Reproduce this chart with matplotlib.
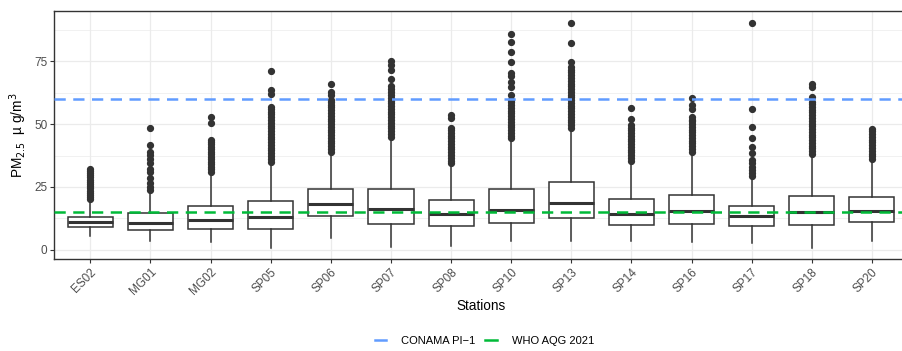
# PM2.5 by station - boxplot with CONAMA / WHO reference lines
import matplotlib
matplotlib.use("Agg")
import matplotlib.pyplot as plt
from matplotlib.lines import Line2D
from matplotlib.transforms import ScaledTranslation

plt.rcParams['font.family'] = ['Liberation Sans', 'DejaVu Sans']

stations = ['ES02', 'MG01', 'MG02', 'SP05', 'SP06', 'SP07', 'SP08',
            'SP10', 'SP13', 'SP14', 'SP16', 'SP17', 'SP18', 'SP20']

# box statistics
q1 = [9.0, 7.9, 8.3, 8.3, 13.5, 10.2, 9.7, 10.6, 12.6, 9.9, 10.4, 9.7, 10.0, 11.0]
med = [11.0, 10.6, 11.9, 13.1, 18.1, 16.3, 14.4, 15.9, 18.5, 14.4, 15.5, 13.6, 14.9, 15.3]
q3 = [13.2, 14.5, 17.3, 19.3, 24.1, 24.3, 19.8, 24.1, 27.1, 20.4, 21.9, 17.6, 21.6, 21.2]
whis_lo = [5.6, 3.7, 3.3, 0.9, 4.6, 1.3, 1.6, 3.7, 3.7, 3.7, 3.3, 2.9, 0.7, 3.4]
whis_hi = [19.6, 23.4, 30.6, 34.6, 38.5, 44.5, 33.9, 43.8, 48.0, 34.9, 38.5, 29.0, 37.6, 35.6]

outliers = [
    [20.1, 21.0, 22.0, 22.8, 23.6, 24.5, 25.3, 26.2, 27.0, 27.9, 28.8, 29.6, 30.5, 31.3, 32.1],
    [23.8, 24.9, 26.7, 28.6, 30.8, 32.1, 34.4, 36.0, 37.7, 39.0, 41.7, 48.5],
    [31.1, 32.0, 33.0, 34.0, 35.0, 36.0, 37.0, 38.0, 39.0, 40.0, 41.0, 42.0, 43.0, 43.7,
     50.3, 52.9],
    [35.1, 36.2, 37.3, 38.4, 39.5, 40.6, 41.7, 42.8, 43.9, 45.0, 46.1, 47.2, 48.3, 49.4,
     50.5, 51.6, 52.7, 53.8, 54.9, 56.0, 56.6, 61.9, 63.5, 71.2],
    [39.0, 40.1, 41.2, 42.3, 43.4, 44.5, 45.6, 46.7, 47.8, 48.9, 50.0, 51.1, 52.2, 53.3,
     54.4, 55.5, 56.6, 57.7, 58.8, 59.5, 61.5, 62.8, 65.9],
    [45.0, 46.1, 47.2, 48.3, 49.4, 50.5, 51.6, 52.7, 53.8, 54.9, 56.0, 57.1, 58.2, 59.3,
     60.4, 61.5, 62.6, 63.8, 65.1, 67.7, 71.4, 73.4, 75.0],
    [34.4, 35.5, 36.6, 37.7, 38.8, 39.9, 41.0, 42.1, 43.2, 44.3, 45.4, 46.5, 47.6, 48.3,
     52.6, 53.6],
    [44.3, 45.4, 46.5, 47.6, 48.7, 49.8, 50.9, 52.0, 53.1, 54.2, 55.3, 56.4, 57.5, 58.6,
     59.5, 61.5, 64.6, 66.8, 69.0, 70.4, 74.7, 78.7, 82.7, 85.6],
    [48.5, 49.6, 50.7, 51.8, 52.9, 54.0, 55.1, 56.2, 57.3, 58.4, 59.5, 60.6, 61.7, 62.8,
     63.9, 65.0, 66.1, 67.2, 68.3, 69.4, 70.5, 71.6, 72.8, 74.5, 82.0, 90.3],
    [35.4, 36.5, 37.6, 38.7, 39.8, 40.9, 42.0, 43.1, 44.2, 45.3, 46.4, 47.5, 48.6, 49.6,
     52.0, 56.2],
    [39.0, 40.1, 41.2, 42.3, 43.4, 44.5, 45.6, 46.7, 47.8, 48.9, 50.0, 51.1, 51.6, 52.9,
     55.8, 57.5, 60.2],
    [29.5, 30.4, 31.7, 33.1, 34.7, 35.7, 38.4, 40.7, 44.6, 48.9, 55.8, 90.0],
    [38.1, 39.2, 40.3, 41.4, 42.5, 43.6, 44.7, 45.8, 46.9, 48.0, 49.1, 50.2, 51.3, 52.4,
     53.5, 54.6, 55.7, 56.8, 57.9, 58.9, 60.8, 64.6, 66.1],
    [36.1, 37.2, 38.3, 39.4, 40.5, 41.6, 42.7, 43.8, 44.9, 46.0, 47.1, 47.9],
]

limit_names = ['CONAMA PI\u22121', 'WHO AQG 2021']
limit_values = [60, 15]
limit_colors = ['#619CFF', '#00BA38']

dark = '#333333'

fig = plt.figure(figsize=(9.03, 3.51), dpi=100)
# panel runs slightly past the right edge, like the reference crop
ax = fig.add_axes([54.3 / 903, 1 - 259 / 351, (908 - 54.3) / 903, (259 - 11) / 351])

stats = []
for i, name in enumerate(stations):
    stats.append(dict(label=name, q1=q1[i], med=med[i], q3=q3[i],
                      whislo=whis_lo[i], whishi=whis_hi[i], fliers=outliers[i]))

positions = list(range(1, len(stations) + 1))
ax.bxp(stats, positions=positions, widths=0.75, patch_artist=True, showcaps=False,
       boxprops=dict(facecolor='white', edgecolor=dark, linewidth=1.1),
       medianprops=dict(color=dark, linewidth=2.2),
       whiskerprops=dict(color=dark, linewidth=1.1),
       flierprops=dict(marker='o', markerfacecolor=dark, markeredgecolor=dark,
                       markersize=4.2, linestyle='none'),
       zorder=2)

handles = []
for name, val, col in zip(limit_names, limit_values, limit_colors):
    ax.axhline(val, color=col, linewidth=1.8, linestyle=(0, (4.5, 3)), zorder=3)
    handles.append(Line2D([], [], color=col, linewidth=1.8, label=name))

ax.set_xlim(0.4, 14.6)
ax.set_ylim(-3.6, 94.9)
ax.set_yticks([0, 25, 50, 75])
ax.set_yticks([12.5, 37.5, 62.5, 87.5], minor=True)
ax.set_xticks(positions)
ax.set_xticklabels(stations, rotation=45, ha='right', va='top', rotation_mode='anchor')
# nudge the rotated labels right/down like ggplot's hjust=1 placement
shift = ScaledTranslation(5 / 100, -3 / 100, fig.dpi_scale_trans)
for lab in ax.get_xticklabels():
    lab.set_transform(lab.get_transform() + shift)

ax.grid(True, which='major', color='#EBEBEB', linewidth=0.9, zorder=0)
ax.grid(True, which='minor', axis='y', color='#EBEBEB', linewidth=0.5, zorder=0)
ax.set_axisbelow(True)

for sp in ax.spines.values():
    sp.set_color(dark)
    sp.set_linewidth(1.0)
ax.tick_params(which='major', color=dark, length=3, width=0.8,
               labelcolor='#4D4D4D', labelsize=8.5, pad=2)
ax.tick_params(which='minor', length=0)

ax.set_xlabel('Stations', fontsize=9.8, labelpad=1)
ax.set_ylabel('PM$_{2.5}$  \u00b5 g/m$^3$', fontsize=9.8, labelpad=4)

fig.legend(handles=handles, loc='center', bbox_to_anchor=(484.5 / 903, 1 - 341 / 351),
           ncol=2, frameon=False, fontsize=8, handlelength=1.0, handletextpad=1.4,
           columnspacing=0.9)

plt.savefig('out.png', dpi=100)
